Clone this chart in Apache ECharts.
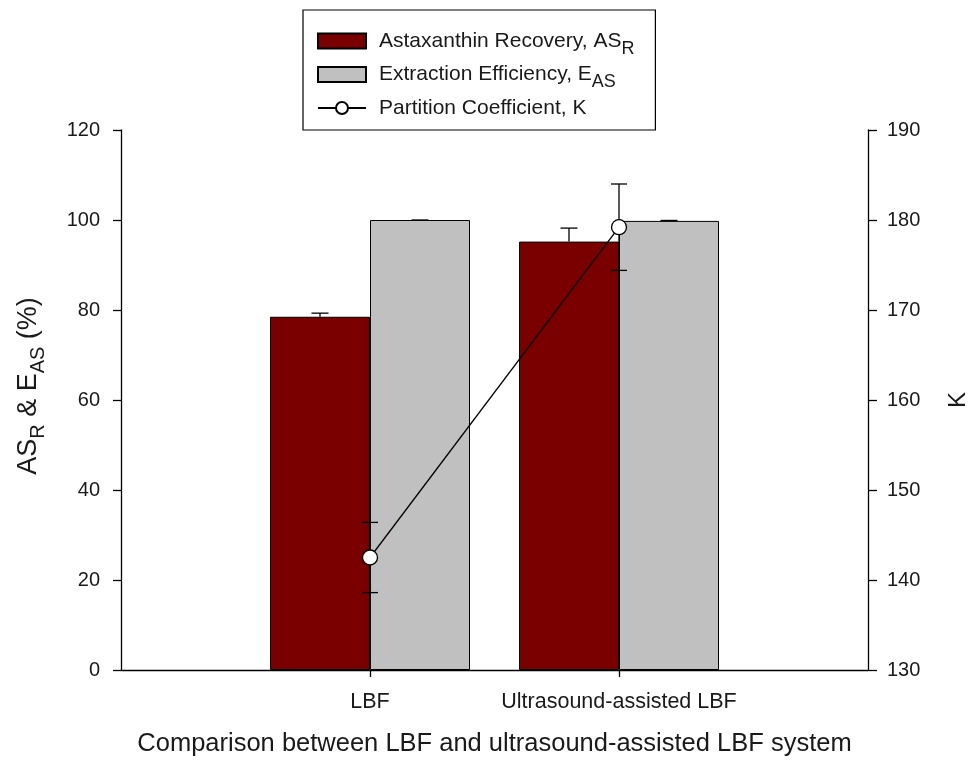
<!DOCTYPE html>
<html>
<head>
<meta charset="utf-8">
<script src="https://cdn.jsdelivr.net/npm/echarts@6/dist/echarts.min.js"></script>
<style>html,body{margin:0;padding:0;background:#fff;}#c{width:978px;height:762px;}</style>
</head>
<body>
<div id="c"></div>
<script>
// ---- data ----
var categories = ['', 'LBF', 'Ultrasound-assisted LBF', ''];
var recovery = [null, 78.5, 95.2, null];
var recoveryErr = [null, 0.8, 3.0, null];
var efficiency = [null, 100.0, 99.8, null];
var efficiencyErr = [null, 0, 0.1, null];
var partitionK = [null, 142.5, 179.2, null];
var partitionKErr = [null, 3.9, 4.8, null];
var leftTicks = [0, 120, 20];
var rightTicks = [130, 190, 10];

var FONT = '"Liberation Sans", Arial, sans-serif';
var TXT = '#1a1a1a';

function errData(vals, errs) {
  var out = [];
  for (var i = 0; i < vals.length; i++) {
    if (vals[i] != null && errs[i] != null) out.push([i, vals[i], errs[i]]);
  }
  return out;
}

function errRender(offsetPx, both, capW) {
  return function (params, api) {
    var x = api.value(0), v = api.value(1), e = api.value(2);
    var c = api.coord([x, v]);
    var hi = api.coord([x, v + e]);
    var lo = api.coord([x, v - e]);
    var cx = c[0] + offsetPx;
    var st = {stroke: '#000', lineWidth: 1.3};
    var ch = [
      {type: 'line', shape: {x1: cx, y1: c[1], x2: cx, y2: hi[1]}, style: st},
      {type: 'line', shape: {x1: cx - capW / 2, y1: hi[1], x2: cx + capW / 2, y2: hi[1]}, style: st}
    ];
    if (both) {
      ch.push({type: 'line', shape: {x1: cx, y1: c[1], x2: cx, y2: lo[1]}, style: st});
      ch.push({type: 'line', shape: {x1: cx - capW / 2, y1: lo[1], x2: cx + capW / 2, y2: lo[1]}, style: st});
    }
    return {type: 'group', children: ch};
  };
}

var nameRich = {
  n: {fontSize: 27, fontFamily: FONT, color: TXT, lineHeight: 32},
  s: {fontSize: 20, fontFamily: FONT, color: TXT, lineHeight: 32, verticalAlign: 'top', padding: [15, 0, 0, 0]}
};
var subStyle = {fontSize: 18, fontFamily: FONT, color: TXT, lineHeight: 24, verticalAlign: 'top', padding: [11, 0, 0, 0]};
var legRich = {
  g: {width: 8},
  n: {fontSize: 21, fontFamily: FONT, color: TXT, lineHeight: 24},
  s: subStyle,
  p: subStyle
};
var legendFmt = {
  'Astaxanthin Recovery, AS_R': '{g|}{n|Astaxanthin Recovery, AS}{s|R}',
  'Extraction Efficiency, E_AS': '{g|}{n|Extraction Efficiency, E}{s|AS}',
  'Partition Coefficient, K': '{g|}{n|Partition Coefficient, K}{p|}'
};

var chart = echarts.init(document.getElementById('c'));
chart.setOption({
  animation: false,
  backgroundColor: '#fff',
  grid: {left: 121, right: 105, top: 130, bottom: 91, containLabel: false},
  legend: {
    orient: 'vertical', left: 303, top: 10,
    padding: [19, 21, 5, 14],
    borderColor: '#000', borderWidth: 1.2,
    itemWidth: 48, itemHeight: 15, itemGap: 4.5,
    data: [
      {name: 'Astaxanthin Recovery, AS_R', icon: 'rect'},
      {name: 'Extraction Efficiency, E_AS', icon: 'rect'},
      {name: 'Partition Coefficient, K'}
    ],
    formatter: function (n) { return legendFmt[n]; },
    textStyle: {rich: legRich, fontSize: 21, fontFamily: FONT, color: TXT}
  },
  xAxis: {
    type: 'category', data: categories, boundaryGap: false,
    name: 'Comparison between LBF and ultrasound-assisted LBF system',
    nameLocation: 'middle', nameGap: 61, nameMoveOverlap: false,
    nameTextStyle: {fontSize: 25.5, fontFamily: FONT, color: TXT},
    axisLine: {lineStyle: {color: '#000', width: 1.3}},
    axisTick: {show: true, length: 7, lineStyle: {color: '#000', width: 1.3},
      interval: function (i) { return i === 1 || i === 2; }},
    axisLabel: {interval: 0, fontSize: 21.5, fontFamily: FONT, color: TXT, margin: 21},
    splitLine: {show: false}
  },
  yAxis: [{
    type: 'value', min: leftTicks[0], max: leftTicks[1], interval: leftTicks[2],
    name: '{n|AS}{s|R}{n| & E}{s|AS}{n| (%)}',
    nameLocation: 'middle', nameGap: 76, nameMoveOverlap: false,
    nameTextStyle: {rich: nameRich, fontSize: 27, fontFamily: FONT, color: TXT, padding: [0, 0, 0, 28]},
    axisLine: {show: true, lineStyle: {color: '#000', width: 1.3}},
    axisTick: {show: true, length: 8, lineStyle: {color: '#000', width: 1.3}},
    axisLabel: {fontSize: 20, fontFamily: FONT, color: TXT, margin: 21},
    splitLine: {show: false}
  }, {
    type: 'value', position: 'right', min: rightTicks[0], max: rightTicks[1], interval: rightTicks[2],
    name: 'K', nameLocation: 'middle', nameGap: 78, nameMoveOverlap: false,
    nameTextStyle: {fontSize: 24, fontFamily: FONT, color: TXT},
    axisLine: {show: true, lineStyle: {color: '#000', width: 1.3}},
    axisTick: {show: true, length: 9, lineStyle: {color: '#000', width: 1.3}},
    axisLabel: {fontSize: 20, fontFamily: FONT, color: TXT, margin: 19},
    splitLine: {show: false}
  }],
  series: [{
    name: 'Astaxanthin Recovery, AS_R', type: 'bar', data: recovery,
    barWidth: 100, barGap: '0%',
    itemStyle: {color: '#7a0000', borderColor: '#000', borderWidth: 1}
  }, {
    name: 'Extraction Efficiency, E_AS', type: 'bar', data: efficiency,
    barWidth: 100, barGap: '0%',
    itemStyle: {color: '#c0c0c0', borderColor: '#000', borderWidth: 1}
  }, {
    type: 'custom', data: errData(recovery, recoveryErr), renderItem: errRender(-50, false, 17), z: 5, silent: true
  }, {
    type: 'custom', data: errData(efficiency, efficiencyErr), renderItem: errRender(50, false, 17), z: 5, silent: true
  }, {
    type: 'custom', yAxisIndex: 1, data: errData(partitionK, partitionKErr), renderItem: errRender(0, true, 16), z: 6, silent: true
  }, {
    name: 'Partition Coefficient, K', type: 'line', yAxisIndex: 1, data: partitionK,
    symbol: 'circle', symbolSize: 15, z: 10,
    lineStyle: {color: '#000', width: 1.3},
    itemStyle: {color: '#fff', borderColor: '#000', borderWidth: 1.3}
  }]
});
</script>
</body>
</html>
